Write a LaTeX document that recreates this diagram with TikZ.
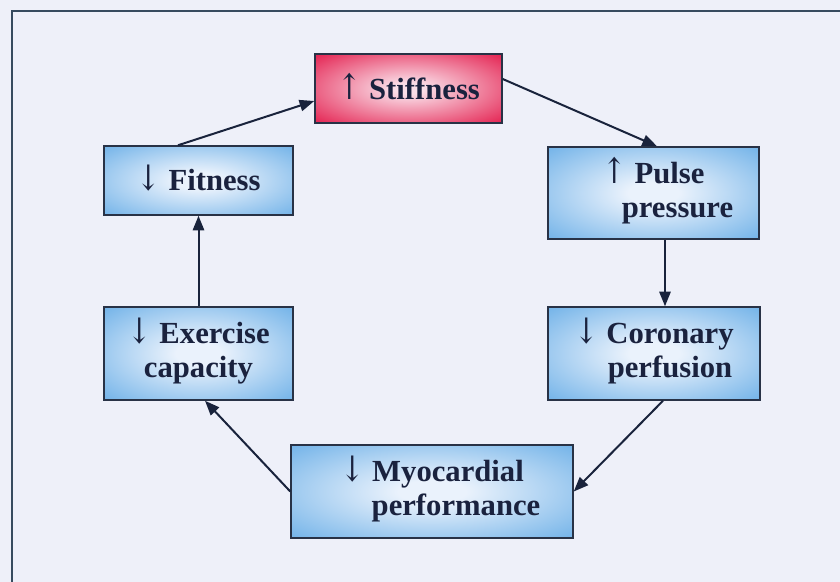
\documentclass[tikz,border=0pt]{standalone}
\usepackage{fontspec}
\setmainfont{Liberation Serif}
\newfontfamily\arrowfont{DejaVu Serif}
\usetikzlibrary{arrows.meta,calc}
\definecolor{bg}{RGB}{238,240,249}
\definecolor{framecol}{RGB}{55,75,95}
\definecolor{boxline}{RGB}{40,50,70}
\definecolor{txt}{RGB}{26,34,62}
\definecolor{arrowcol}{RGB}{25,35,60}
\definecolor{bluein}{RGB}{234,242,252}
\definecolor{blueout}{RGB}{88,165,228}
\definecolor{redin}{RGB}{250,222,232}
\definecolor{redout}{RGB}{226,18,68}
\pgfdeclareradialshading{blueglow}{\pgfpoint{0bp}{0bp}}{color(0bp)=(bluein); color(6bp)=(bluein); color(42bp)=(blueout); color(50bp)=(blueout)}
\pgfdeclareradialshading{redglow}{\pgfpoint{0bp}{0bp}}{color(0bp)=(redin); color(4bp)=(redin); color(38bp)=(redout); color(50bp)=(redout)}
\newcommand{\upar}{\smash{\mdseries\arrowfont\scalebox{0.95}[1.15]{↑}}}
\newcommand{\dnar}{\smash{\mdseries\arrowfont\scalebox{0.95}[1.15]{↓}}}
\begin{document}
\begin{tikzpicture}[x=0.75pt,y=-0.75pt,
  box/.style={draw=boxline, line width=1.1pt, text=txt,
    font=\bfseries\fontsize{23}{25.5}\selectfont, align=center, inner sep=0pt},
  bluebox/.style={box, shade, shading=blueglow},
  redbox/.style={box, shade, shading=redglow},
  link/.style={draw=arrowcol, line width=1.5pt, -{Triangle[length=11pt,width=8.5pt]}}]
\fill[bg] (0,0) rectangle (840,582);
\useasboundingbox (0,0) rectangle (840,582);
\draw[framecol, line width=1.4pt] (840,11) -- (12,11) -- (12,582);

\node[redbox, minimum width=140.25pt, minimum height=51.75pt] (stiff) at (408.5,88.5) {\upar\ Stiffness};
\node[bluebox, minimum width=141.75pt, minimum height=51.75pt] (fit) at (198.5,180.5) {\dnar\ Fitness};
\node[bluebox, minimum width=158.25pt, minimum height=69pt] (pulse) at (653.5,193) {\upar\ Pulse\\\hspace*{36pt}pressure};
\node[bluebox, minimum width=159pt, minimum height=69.75pt] (cor) at (654,353.5) {\dnar\ Coronary\\\hspace*{24pt}perfusion};
\node[bluebox, minimum width=141.75pt, minimum height=69.75pt] (exer) at (198.5,353.5) {\dnar\ Exercise\\capacity};
\node[bluebox, minimum width=211.5pt, minimum height=69.75pt] (myo) at (432,491.5) {\dnar\ Myocardial\\\hspace*{36pt}performance};

\draw[link] ($(fit.north)+(-20.5,0)$) -- ($(stiff.west)+(0,12.5)$);
\draw[link] ($(stiff.east)+(0,-9.5)$) -- ($(pulse.north)+(3.5,0)$);
\draw[link] ($(pulse.south)+(11.5,0)$) -- ($(cor.north)+(11,0)$);
\draw[link] ($(cor.south)+(9,0)$) -- (myo.east);
\draw[link] (myo.west) -- ($(exer.south)+(6.5,0)$);
\draw[link] (exer.north) -- (fit.south);
\end{tikzpicture}
\end{document}
